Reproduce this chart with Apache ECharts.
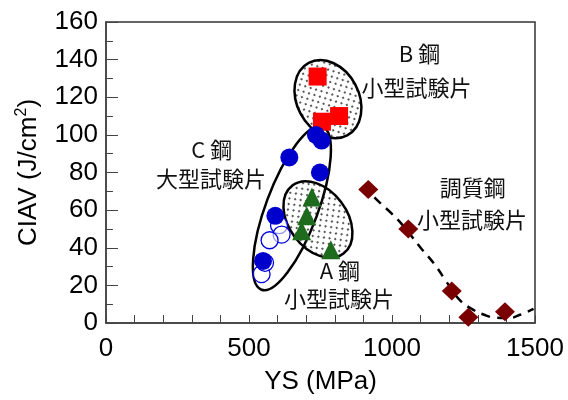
<!DOCTYPE html>
<html>
<head>
<meta charset="utf-8" />
<title>CIAV vs YS</title>
<script src="https://cdn.jsdelivr.net/npm/echarts@6/dist/echarts.min.js"></script>
<style>
  html, body { margin: 0; padding: 0; background: #fff; }
  #main { width: 568px; height: 400px; }
</style>
</head>
<body>
<div id="main"></div>
<script>
// データ (YS [MPa], CIAV [J/cm2])
var squaresB   = [[740, 131], [755, 107], [815, 110]];               // B鋼 小型試験片
var circlesC   = [[734, 100], [754, 97], [641, 88], [748, 80], [592, 57], [549, 33]]; // C鋼 大型試験片
var openC      = [[605, 52], [614, 47], [572, 44], [544, 26], [556, 32]];
var trianglesA = [[720, 67], [702, 57], [684, 49], [786, 39]];        // A鋼 小型試験片
var diamondsQT = [[917, 71], [1057, 50], [1209, 17], [1267, 3], [1395, 6]]; // 調質鋼
var fitQT      = [[900, 73], [950, 65], [1000, 58], [1040, 51.5], [1100, 40], [1150, 31],
                  [1190, 22], [1238, 12], [1290, 6.5], [1320, 4.5], [1360, 2.8],
                  [1410, 2.6], [1450, 4.5], [1495, 7.5]];

var xTicks = [0, 500, 1000, 1500];
var yTicks = [0, 20, 40, 60, 80, 100, 120, 140, 160];

// 注記 (データ座標)
var notes = [
  { text: 'B 鋼',       at: [1096, 143] },
  { text: '小型試験片', at: [1086, 125] },
  { text: 'C 鋼',       at: [370, 92] },
  { text: '大型試験片', at: [367, 77] },
  { text: 'A 鋼',       at: [818, 28] },
  { text: '小型試験片', at: [815, 13] },
  { text: '調質鋼',     at: [1282, 72] },
  { text: '小型試験片', at: [1280, 55] }
];
// 楕円 (中心はデータ座標, 半径はpx)
var ellipses = [
  { at: [776, 119], rx: 31, ry: 41, rot: 28, dotted: true },
  { at: [650, 61],  rx: 26, ry: 87, rot: -20.5, dotted: false },
  { at: [741, 55],  rx: 29, ry: 42.5, rot: 37, dotted: true }
];

var font = 'Liberation Sans, Arial, sans-serif';
var jpFont = 'Noto Sans CJK JP, sans-serif';

// ドット模様
var dots = document.createElement('canvas');
dots.width = 8; dots.height = 8;
var dc = dots.getContext('2d');
dc.fillStyle = '#222';
dc.beginPath(); dc.arc(2, 2, 1, 0, Math.PI * 2); dc.fill();
dc.beginPath(); dc.arc(6, 6, 1, 0, Math.PI * 2); dc.fill();

var chart = echarts.init(document.getElementById('main'));
var option = {
  animation: false,
  grid: { left: 106, right: 33, top: 22, bottom: 74, show: true, borderColor: '#333', borderWidth: 1.5 },
  xAxis: {
    type: 'value', min: xTicks[0], max: xTicks[xTicks.length - 1], interval: 500,
    name: 'YS (MPa)', nameLocation: 'middle', nameGap: 46,
    nameTextStyle: { fontSize: 26, color: '#000', fontFamily: font },
    axisLine: { onZero: false, lineStyle: { color: '#444', width: 1.5 } },
    axisTick: { inside: true, length: 8, lineStyle: { color: '#444' } },
    minorTick: { show: true, splitNumber: 5, length: 8, lineStyle: { color: '#444' } },
    splitLine: { show: false },
    axisLabel: { fontSize: 26, color: '#000', fontFamily: font, margin: 13,
      formatter: function (v) { return String(v); } }
  },
  yAxis: {
    type: 'value', min: yTicks[0], max: yTicks[yTicks.length - 1], interval: 20,
    name: '{a|CIAV (J/cm}{s|2}{a|)}', nameLocation: 'middle', nameGap: 62,
    nameTextStyle: {
      rich: {
        a: { fontSize: 26, color: '#000', fontFamily: font, lineHeight: 30 },
        s: { fontSize: 16, color: '#000', fontFamily: font, verticalAlign: 'top' }
      }
    },
    axisLine: { onZero: false, lineStyle: { color: '#444', width: 1.5 } },
    axisTick: { inside: true, length: 12, lineStyle: { color: '#444' } },
    minorTick: { show: true, splitNumber: 2, length: 7, lineStyle: { color: '#444' } },
    splitLine: { show: false },
    axisLabel: { fontSize: 26, color: '#000', fontFamily: font, margin: 8 }
  },
  series: [
    { name: 'fit', type: 'line', data: fitQT, smooth: 0.4, symbol: 'none', z: 3,
      lineStyle: { color: '#000', width: 2.5, type: [9, 7] } },
    { name: 'QT', type: 'scatter', data: diamondsQT, symbol: 'diamond', symbolSize: [20, 19], z: 4,
      itemStyle: { color: '#7a0000', opacity: 1 } },
    { name: 'B', type: 'scatter', data: squaresB, symbol: 'rect', symbolSize: 18, z: 4,
      itemStyle: { color: '#ff0000', opacity: 1 } },
    { name: 'C open', type: 'scatter', data: openC, symbol: 'circle', symbolSize: 17, z: 4,
      itemStyle: { color: 'rgba(255,255,255,0.6)', borderColor: '#0000dd', borderWidth: 1.3, opacity: 1 } },
    { name: 'C', type: 'scatter', data: circlesC, symbol: 'circle', symbolSize: 18, z: 4,
      itemStyle: { color: '#0000cc', opacity: 1 } },
    { name: 'A', type: 'scatter', data: trianglesA, symbol: 'triangle', symbolSize: 19, z: 4,
      itemStyle: { color: '#1e6b1e', opacity: 1 } }
  ]
};
chart.setOption(option);

// 注記と楕円
var gr = [];
ellipses.forEach(function (e) {
  var p = chart.convertToPixel({ gridIndex: 0 }, e.at);
  gr.push({
    type: 'ellipse', x: p[0], y: p[1], rotation: e.rot * Math.PI / 180, z: 2,
    shape: { cx: 0, cy: 0, rx: e.rx, ry: e.ry },
    style: { fill: e.dotted ? { image: dots, repeat: 'repeat' } : 'none', stroke: '#000', lineWidth: 2.5 }
  });
});
notes.forEach(function (n) {
  var p = chart.convertToPixel({ gridIndex: 0 }, n.at);
  gr.push({
    type: 'text', x: p[0], y: p[1], z: 5,
    style: { text: n.text, fontSize: 22, fontFamily: jpFont, fill: '#111', align: 'center', verticalAlign: 'middle' }
  });
});
chart.setOption({ graphic: gr });
</script>
</body>
</html>
